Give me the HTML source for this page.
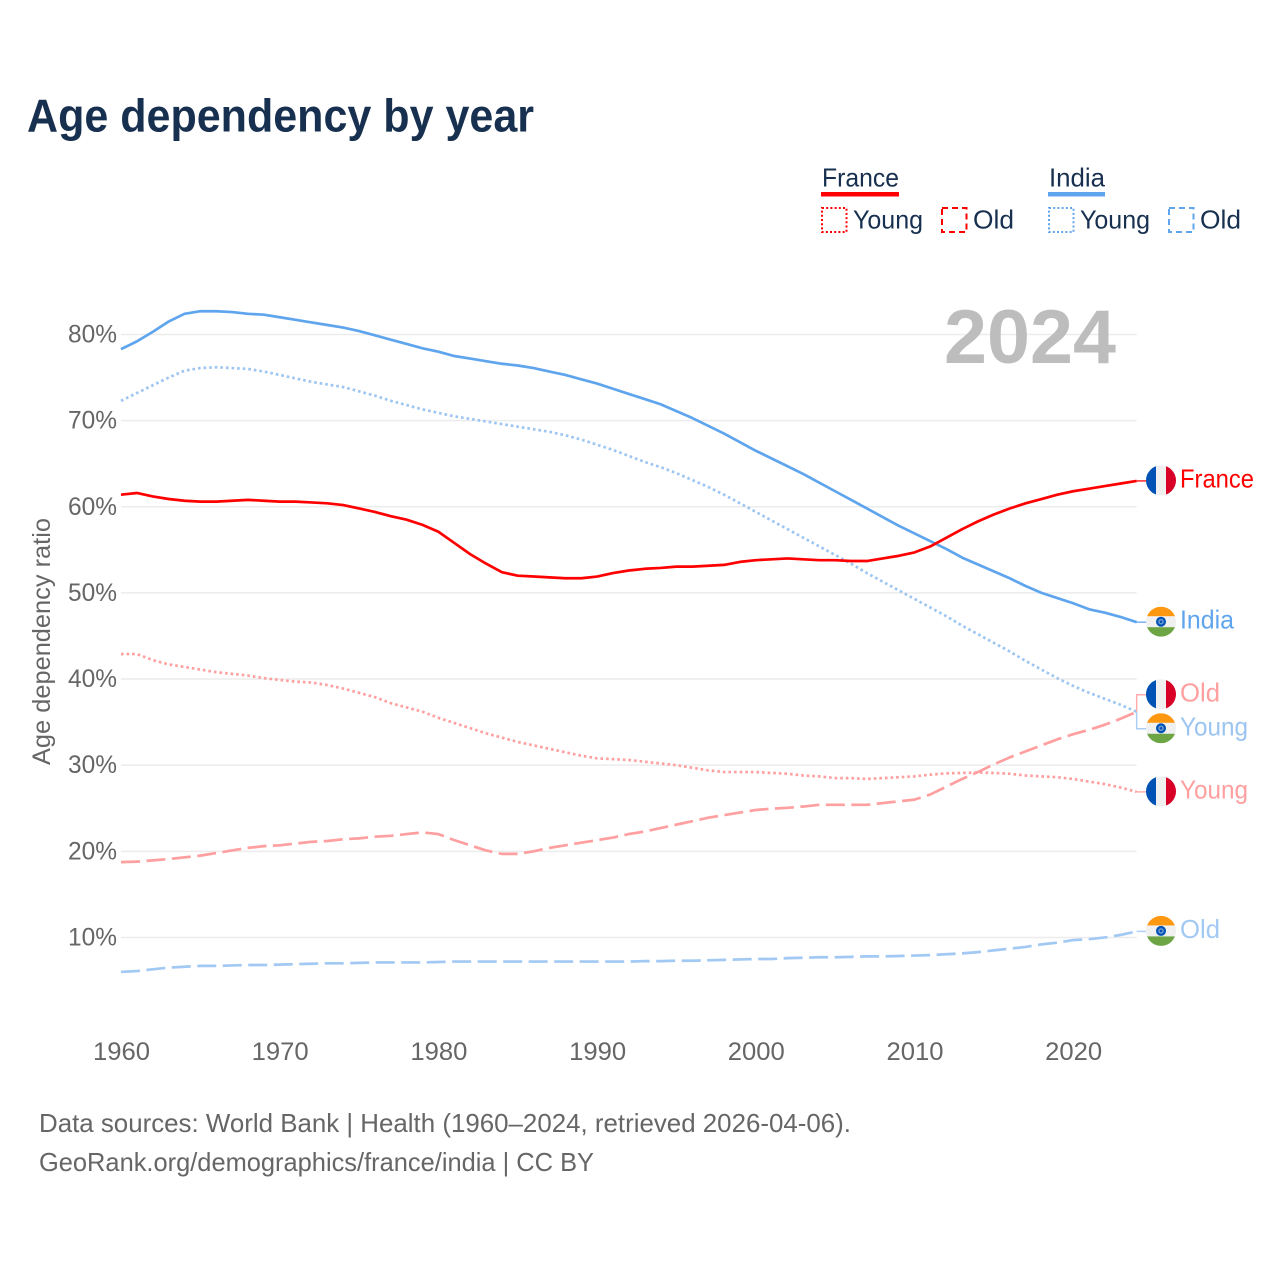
<!DOCTYPE html>
<html lang="en">
<head>
<meta charset="utf-8">
<title>Age dependency by year</title>
<style>
html,body{margin:0;padding:0;background:#fff;}
svg{display:block;font-family:"Liberation Sans",sans-serif;}
</style>
</head>
<body>
<svg id="chart" xmlns="http://www.w3.org/2000/svg" width="1280" height="1280" viewBox="0 0 1280 1280">
<defs>
<clipPath id="flag-clip"><circle cx="0" cy="0" r="15"/></clipPath>
<g id="flag-france" clip-path="url(#flag-clip)">
<rect x="-15" y="-15" width="30" height="30" fill="#f0f0f0"/>
<rect x="-15" y="-15" width="10" height="30" fill="#0052b4"/>
<rect x="5" y="-15" width="10" height="30" fill="#d80027"/>
</g>
<g id="flag-india" clip-path="url(#flag-clip)">
<rect x="-15" y="-15" width="30" height="30" fill="#f0f0f0"/>
<rect x="-15" y="-15" width="30" height="9.5" fill="#ff9811"/>
<rect x="-15" y="5.5" width="30" height="9.5" fill="#6da544"/>
<circle cx="0" cy="0" r="5" fill="#0052b4"/>
<circle cx="0" cy="0" r="2.8" fill="#6f9ad4"/>
<circle cx="0" cy="0" r="1.3" fill="#0052b4"/>
</g>
</defs>
<rect x="0" y="0" width="1280" height="1280" fill="#ffffff"/>
<text x="27" y="131.5" font-size="46" font-weight="700" fill="#17304f" textLength="507" lengthAdjust="spacingAndGlyphs">Age dependency by year</text>

<g font-size="26" fill="#17304f">
<text x="822" y="186.5" textLength="77" lengthAdjust="spacingAndGlyphs">France</text>
<rect x="821" y="192" width="78" height="4.5" fill="#ff0000"/>
<rect x="822" y="208" width="24.5" height="24" fill="none" stroke="#ff0000" stroke-width="2" stroke-dasharray="2 2.2"/>
<text x="853" y="228.5" textLength="70" lengthAdjust="spacingAndGlyphs">Young</text>
<rect x="942" y="208" width="24.5" height="24" fill="none" stroke="#ff0000" stroke-width="2" stroke-dasharray="6 4"/>
<text x="973" y="228.5" textLength="41" lengthAdjust="spacingAndGlyphs">Old</text>
<text x="1049" y="186.5" textLength="56" lengthAdjust="spacingAndGlyphs">India</text>
<rect x="1048" y="192" width="57" height="4.5" fill="#5fa5ee"/>
<rect x="1049" y="208" width="24.5" height="24" fill="none" stroke="#5fa5ee" stroke-width="2" stroke-dasharray="2 2.2"/>
<text x="1080" y="228.5" textLength="70" lengthAdjust="spacingAndGlyphs">Young</text>
<rect x="1169" y="208" width="24.5" height="24" fill="none" stroke="#5fa5ee" stroke-width="2" stroke-dasharray="6 4"/>
<text x="1200" y="228.5" textLength="41" lengthAdjust="spacingAndGlyphs">Old</text>
</g>

<g id="grid"></g>
<text x="944" y="363" font-size="76" font-weight="700" fill="#bdbdbd" textLength="172" lengthAdjust="spacingAndGlyphs">2024</text>
<g id="y-axis" font-size="25" fill="#666666"></g>
<g id="x-axis" font-size="25" fill="#666666"></g>
<text transform="translate(50,765) rotate(-90)" x="0" y="0" font-size="25" fill="#666666" textLength="247" lengthAdjust="spacingAndGlyphs">Age dependency ratio</text>
<g id="series"></g>
<g id="end-labels" font-size="26"></g>

<text x="39" y="1132" font-size="26" fill="#666666" textLength="812" lengthAdjust="spacingAndGlyphs">Data sources: World Bank | Health (1960–2024, retrieved 2026-04-06).</text>
<text x="39" y="1171" font-size="26" fill="#666666" textLength="555" lengthAdjust="spacingAndGlyphs">GeoRank.org/demographics/france/india | CC BY</text>
</svg>

<script>
const startYear = 1960;
const yTickValues = [10, 20, 30, 40, 50, 60, 70, 80];
const xTickYears = [1960, 1970, 1980, 1990, 2000, 2010, 2020];

const franceTotal = [61.4,61.6,61.2,60.9,60.7,60.6,60.6,60.7,60.8,60.7,60.6,60.6,60.5,60.4,60.2,59.8,59.4,58.9,58.5,57.9,57.1,55.8,54.5,53.4,52.4,52.0,51.9,51.8,51.7,51.7,51.9,52.3,52.6,52.8,52.9,53.05,53.05,53.15,53.25,53.6,53.8,53.9,54.0,53.9,53.8,53.8,53.7,53.7,54.0,54.3,54.7,55.4,56.4,57.4,58.3,59.1,59.8,60.4,60.9,61.4,61.8,62.1,62.4,62.7,63.0];
const franceYoung = [42.9,42.9,42.2,41.7,41.4,41.1,40.8,40.6,40.4,40.1,39.9,39.7,39.6,39.3,38.9,38.4,37.9,37.2,36.7,36.2,35.5,34.9,34.3,33.7,33.2,32.7,32.3,31.9,31.5,31.1,30.8,30.7,30.6,30.4,30.2,30.0,29.7,29.4,29.2,29.2,29.2,29.1,29.0,28.8,28.7,28.5,28.5,28.4,28.5,28.6,28.7,28.9,29.05,29.1,29.15,29.1,29.0,28.8,28.7,28.6,28.4,28.1,27.8,27.4,26.9];
const franceOld = [18.75,18.8,18.95,19.1,19.3,19.5,19.8,20.1,20.4,20.6,20.7,20.9,21.1,21.2,21.4,21.5,21.7,21.8,22.0,22.2,22.0,21.3,20.7,20.1,19.7,19.7,20.0,20.4,20.7,21.0,21.3,21.6,22.0,22.3,22.7,23.1,23.5,23.9,24.2,24.5,24.8,24.95,25.05,25.2,25.4,25.4,25.4,25.4,25.6,25.8,26.0,26.6,27.5,28.4,29.2,30.1,30.9,31.6,32.3,33.0,33.6,34.1,34.7,35.4,36.2];
const indiaTotal = [78.3,79.2,80.3,81.5,82.4,82.7,82.7,82.6,82.4,82.3,82.0,81.7,81.4,81.1,80.8,80.4,79.9,79.4,78.9,78.4,78.0,77.5,77.2,76.9,76.6,76.4,76.1,75.7,75.3,74.8,74.3,73.7,73.1,72.5,71.9,71.1,70.3,69.4,68.5,67.5,66.5,65.6,64.7,63.8,62.8,61.8,60.8,59.8,58.8,57.8,56.9,56.0,55.1,54.1,53.3,52.5,51.7,50.8,50.0,49.4,48.8,48.1,47.7,47.2,46.6];
const indiaYoung = [72.3,73.2,74.1,75.0,75.8,76.1,76.2,76.1,76.0,75.7,75.3,74.9,74.5,74.2,73.9,73.4,72.9,72.3,71.8,71.3,70.9,70.5,70.2,69.9,69.6,69.3,69.0,68.7,68.3,67.8,67.2,66.6,65.9,65.2,64.6,63.9,63.1,62.3,61.4,60.4,59.4,58.4,57.4,56.4,55.4,54.4,53.4,52.3,51.3,50.3,49.3,48.3,47.3,46.2,45.2,44.2,43.2,42.1,41.1,40.1,39.2,38.4,37.7,37.0,36.2];
const indiaOld = [6.0,6.1,6.3,6.5,6.6,6.7,6.7,6.75,6.8,6.8,6.85,6.9,6.95,7.0,7.0,7.05,7.1,7.1,7.1,7.1,7.15,7.2,7.2,7.2,7.2,7.2,7.2,7.2,7.2,7.2,7.2,7.2,7.2,7.25,7.25,7.3,7.3,7.35,7.4,7.45,7.5,7.5,7.6,7.65,7.7,7.7,7.75,7.8,7.8,7.85,7.9,7.95,8.05,8.15,8.3,8.5,8.7,8.9,9.2,9.4,9.7,9.8,10.0,10.3,10.7];

function xScale(year) { return 121 + (year - 1960) * 15.87; }
function yScale(value) { return 1023.6 - value * 8.614; }

const svgNS = 'http://www.w3.org/2000/svg';
function make(tag, parent) {
  const el = document.createElementNS(svgNS, tag);
  parent.appendChild(el);
  return el;
}
function pathFrom(values) {
  return values.map((v, i) => (i ? 'L' : 'M') + xScale(startYear + i).toFixed(2) + ' ' + yScale(v).toFixed(2)).join(' ');
}

const gridGroup = document.getElementById('grid');
const yAxisGroup = document.getElementById('y-axis');
yTickValues.forEach(v => {
  const line = make('line', gridGroup);
  
  
  line.setAttribute('x1', xScale(1960));
  line.setAttribute('x2', xScale(2024));
  line.setAttribute('y1', yScale(v));
  line.setAttribute('y2', yScale(v));
  line.setAttribute('stroke', '#ececec');
  line.setAttribute('stroke-width', '1.5');
  const label = make('text', yAxisGroup);
  
  
  label.setAttribute('x', 117);
  label.setAttribute('y', yScale(v) + 8);
  label.setAttribute('text-anchor', 'end');
  label.setAttribute('textLength', '49');
  label.setAttribute('lengthAdjust', 'spacingAndGlyphs');
  label.textContent = v + '%';
});

const xAxisGroup = document.getElementById('x-axis');
xTickYears.forEach(year => {
  const label = make('text', xAxisGroup);
  
  
  label.setAttribute('x', xScale(year) + 0.5);
  label.setAttribute('y', 1060);
  label.setAttribute('text-anchor', 'middle');
  label.setAttribute('textLength', '57');
  label.setAttribute('lengthAdjust', 'spacingAndGlyphs');
  label.textContent = year;
});

const seriesDefs = [
  { key: 'india-old', values: indiaOld, color: '#a2c9f3', dash: '19 6.5', flag: 'flag-india', label: 'Old', width: 40 },
  { key: 'india-young', values: indiaYoung, color: '#9cc5f2', dash: '2.6 3', flag: 'flag-india', label: 'Young', width: 68 },
  { key: 'india-total', values: indiaTotal, color: '#5fa5ee', dash: null, flag: 'flag-india', label: 'India', width: 54 },
  { key: 'france-young', values: franceYoung, color: '#ff9f9f', dash: '2.6 3', flag: 'flag-france', label: 'Young', width: 68 },
  { key: 'france-old', values: franceOld, color: '#ff9f9f', dash: '19 6.5', flag: 'flag-france', label: 'Old', width: 40 },
  { key: 'france-total', values: franceTotal, color: '#ff0000', dash: null, flag: 'flag-france', label: 'France', width: 74 }
];

const seriesGroup = document.getElementById('series');
seriesDefs.forEach(s => {
  const p = make('path', seriesGroup);
  
  
  p.setAttribute('d', pathFrom(s.values));
  p.setAttribute('fill', 'none');
  p.setAttribute('stroke', s.color);
  p.setAttribute('stroke-width', '2.7');
  p.setAttribute('stroke-linejoin', 'round');
  if (s.dash) p.setAttribute('stroke-dasharray', s.dash);
});

/* End labels: start at the final value, then push apart labels that collide. */
const minGap = 34;
const placed = seriesDefs.map(s => {
  const end = yScale(s.values[s.values.length - 1]);
  return { s: s, end: end, y: end };
}).sort((a, b) => (a.end - b.end) || (a.s.key < b.s.key ? -1 : 1));
for (let i = 1; i < placed.length; i++) {
  if (placed[i].y - placed[i - 1].y < minGap) {
    const mid = (placed[i].y + placed[i - 1].y) / 2;
    placed[i - 1].y = mid - minGap / 2;
    placed[i].y = mid + minGap / 2;
  }
}

const labelGroup = document.getElementById('end-labels');
placed.forEach(item => {
  const x0 = xScale(2024);
  const connector = make('polyline', labelGroup);
  
  
  connector.setAttribute('points', x0 + ',' + item.end.toFixed(2) + ' ' + x0 + ',' + item.y.toFixed(2) + ' ' + (x0 + 10) + ',' + item.y.toFixed(2));
  connector.setAttribute('fill', 'none');
  connector.setAttribute('stroke', item.s.color);
  connector.setAttribute('stroke-opacity', '0.85');
  connector.setAttribute('stroke-width', '1.5');

  const flag = make('use', labelGroup);
  
  
  flag.setAttribute('href', '#' + item.s.flag);
  flag.setAttribute('transform', 'translate(1161,' + (item.y - 0.5).toFixed(2) + ')');

  const text = make('text', labelGroup);
  
  
  text.setAttribute('x', 1180);
  text.setAttribute('y', (item.y + 6.5).toFixed(2));
  text.setAttribute('fill', item.s.color);
  text.setAttribute('textLength', item.s.width);
  text.setAttribute('lengthAdjust', 'spacingAndGlyphs');
  text.textContent = item.s.label;
});
</script>
</body>
</html>
